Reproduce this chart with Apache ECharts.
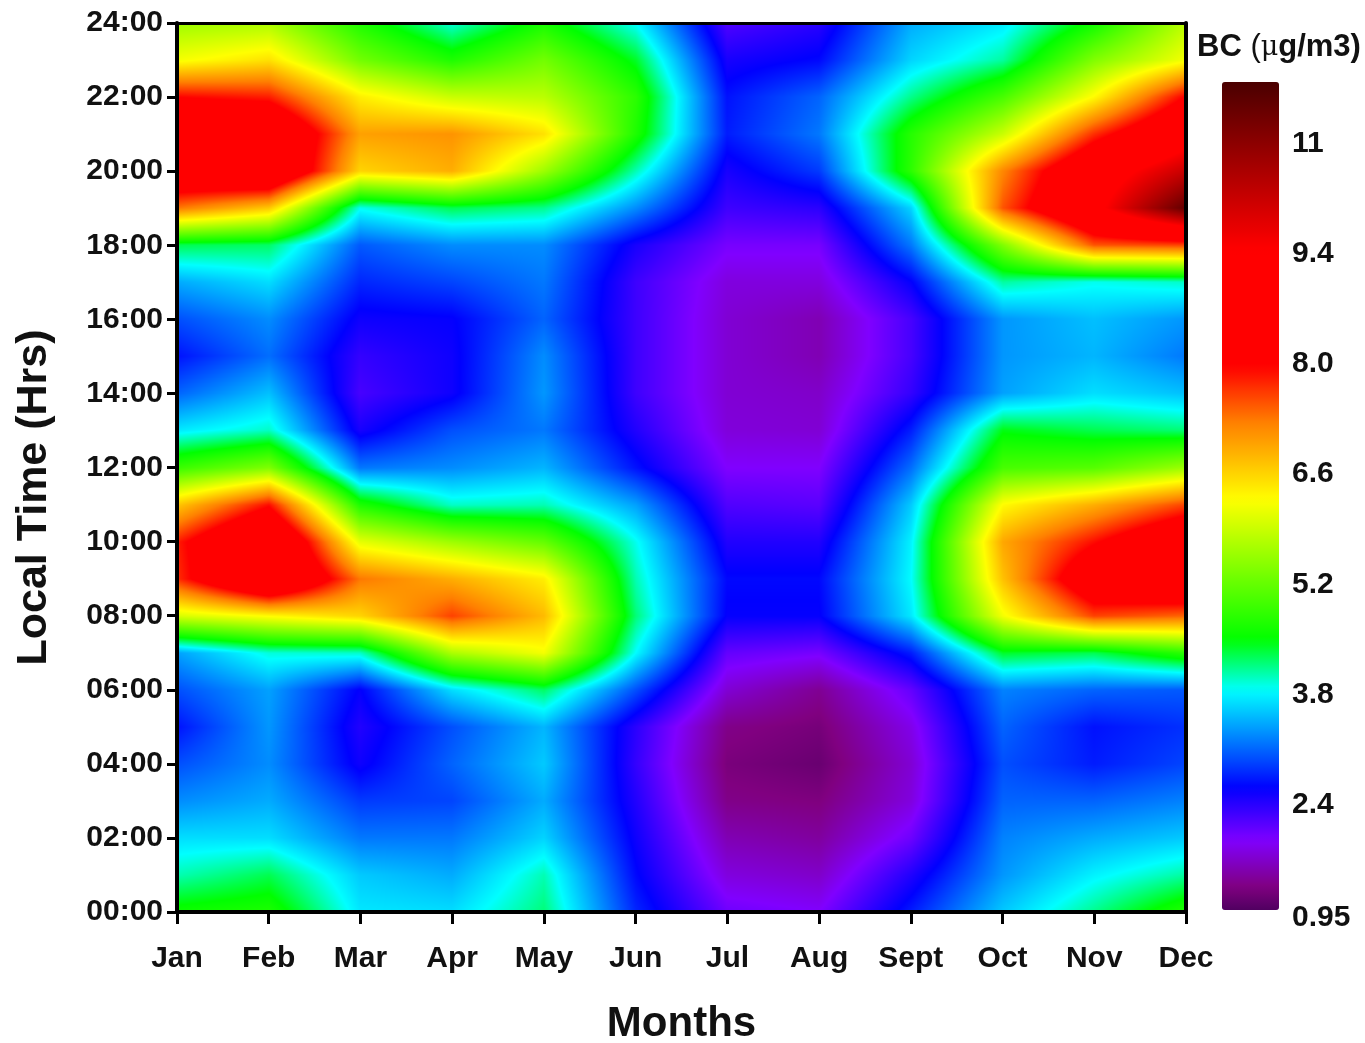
<!DOCTYPE html>
<html><head><meta charset="utf-8">
<style>html,body{margin:0;padding:0;background:#fff}#c{width:1365px;height:1043px}</style>
<script src="https://cdn.jsdelivr.net/npm/echarts@6/dist/echarts.min.js"></script>
</head><body><div id="c"></div>
<script>
// Category labels
const months = ["Jan","Feb","Mar","Apr","May","Jun","Jul","Aug","Sept","Oct","Nov","Dec"];
const hours = ["00:00","01:00","02:00","03:00","04:00","05:00","06:00","07:00","08:00","09:00","10:00","11:00","12:00","13:00","14:00","15:00","16:00","17:00","18:00","19:00","20:00","21:00","22:00","23:00","24:00"];
// BC concentration per month, one value per hour 00..24
const jan = [4.6,4.05,3.7,3.3,3.0,2.7,3.0,3.4,6.0,7.7,7.8,6.7,4.9,3.75,3.1,2.7,3.0,3.45,4.3,7.3,8.9,9.0,7.95,6.2,5.6];
const feb = [4.7,4.3,3.7,3.45,3.3,3.35,3.4,3.95,6.3,9.4,9.3,7.9,5.4,4.0,3.55,3.15,3.3,3.7,4.25,6.7,9.2,9.1,7.8,6.5,5.7];
const mar = [3.75,3.6,3.2,2.9,2.55,2.45,2.6,4.0,6.6,7.3,6.1,4.7,3.2,2.5,2.25,2.35,2.55,2.8,3.05,3.9,6.6,7.0,6.4,5.3,4.7];
const apr = [3.7,3.45,3.2,2.95,3.1,3.0,3.7,5.7,7.6,6.9,5.6,4.0,3.3,3.0,2.55,2.55,2.6,2.95,3.3,4.3,6.9,7.1,5.9,4.7,3.95];
const may = [4.2,4.05,3.65,3.45,3.6,3.5,4.25,6.2,6.8,6.4,5.2,4.05,3.5,3.2,3.35,3.3,3.1,3.2,3.3,4.15,5.6,6.5,5.8,5.3,4.65];
const jun = [2.8,2.65,2.55,2.45,2.35,2.4,3.0,3.85,4.2,4.05,3.9,3.4,2.7,2.45,2.3,2.3,2.3,2.3,2.5,3.3,4.05,4.7,4.8,4.4,3.85];
const jul = [2.05,1.8,1.6,1.4,1.32,1.4,1.75,2.1,2.6,2.65,2.45,2.2,1.95,1.78,1.75,1.75,1.75,1.8,2.0,2.3,2.5,2.75,2.7,2.5,2.2];
const aug = [1.95,1.7,1.5,1.35,1.22,1.3,1.45,2.0,2.6,2.65,2.45,2.15,1.95,1.75,1.7,1.6,1.6,1.8,2.0,2.4,2.9,3.2,3.1,2.65,2.4];
const sep = [2.75,2.45,2.05,1.8,1.75,1.85,2.1,2.75,3.75,3.85,3.8,3.6,3.15,2.75,2.35,2.25,2.25,2.6,3.2,3.65,4.8,4.75,4.15,3.65,3.45];
const oct = [3.6,3.35,3.25,3.1,3.0,3.1,3.25,4.4,6.2,6.75,6.95,6.3,5.0,4.45,3.4,3.35,3.35,4.1,5.4,7.5,7.2,5.9,5.0,4.1,3.75];
const nov = [4.15,3.8,3.45,3.1,2.75,2.7,3.1,4.3,7.6,8.7,7.9,6.9,5.1,4.3,3.7,3.5,3.55,3.9,7.5,9.2,8.9,7.7,6.3,5.4,4.6];
const dec = [4.75,4.1,3.6,3.25,2.95,2.85,3.05,4.8,7.4,9.1,8.9,7.6,5.6,4.2,3.55,3.2,3.35,4.0,7.6,11.3,10.1,9.0,8.0,6.2,5.8];
const table = [jan,feb,mar,apr,may,jun,jul,aug,sep,oct,nov,dec];
// Colour bar
const legendTickValues = [0.97,2.4,3.8,5.2,6.6,8.0,9.4,10.8];
const legendTickLabels = ["0.95","2.4","3.8","5.2","6.6","8.0","9.4","11"];
const barMin = 1.07, barMax = 11.57;
const colorStops = [[1.07,[80,0,96]],[1.36,[128,0,128]],[1.95,[128,0,255]],[2.62,[0,0,255]],[3.24,[0,128,255]],[3.86,[0,255,255]],[4.5,[0,255,0]],[5.4,[128,255,0]],[6.27,[255,255,0]],[7.25,[255,128,0]],[7.96,[255,0,0]],[9.45,[255,0,0]],[11.57,[74,0,0]]];

function rgbAt(v){
  if(v<=colorStops[0][0]) return colorStops[0][1];
  for(let k=1;k<colorStops.length;k++){
    if(v<=colorStops[k][0]){
      const a=colorStops[k-1],b=colorStops[k],t=(v-a[0])/(b[0]-a[0]);
      return [0,1,2].map(n=>a[1][n]+(b[1][n]-a[1][n])*t);
    }
  }
  return colorStops[colorStops.length-1][1];
}
const barColors=[];
for(let k=0;k<=256;k++){const c=rgbAt(barMin+(barMax-barMin)*k/256);barColors.push('rgb('+c.map(Math.round).join(',')+')');}

const seriesData=[];
table.forEach((col,i)=>col.forEach((v,j)=>seriesData.push([i,j,v])));

function cellCanvas(i,j,w,h){
  const cv=document.createElement('canvas');cv.width=w;cv.height=h;
  const ctx=cv.getContext('2d'),img=ctx.createImageData(w,h);
  const a=table[i][j],b=table[i+1][j],c=table[i][j+1],d=table[i+1][j+1];
  for(let py=0;py<h;py++){
    const ty=1-(py+.5)/h;
    for(let px=0;px<w;px++){
      const tx=(px+.5)/w;
      const v=(a*(1-tx)+b*tx)*(1-ty)+(c*(1-tx)+d*tx)*ty;
      const rgb=rgbAt(v),o=(py*w+px)*4;
      img.data[o]=rgb[0];img.data[o+1]=rgb[1];img.data[o+2]=rgb[2];img.data[o+3]=255;
    }
  }
  ctx.putImageData(img,0,0);
  return cv;
}
function renderCell(params,api){
  const i=api.value(0),j=api.value(1);
  if(i>=months.length-1||j>=hours.length-1) return null;
  const p0=api.coord([i,j]),p1=api.coord([i+1,j+1]);
  const x=Math.round(p0[0]),y=Math.round(p1[1]),w=Math.round(p1[0])-x,h=Math.round(p0[1])-y;
  return {type:'image',silent:true,style:{image:cellCanvas(i,j,w,h),x:x,y:y,width:w,height:h}};
}

const FONT='"Liberation Sans", Arial, sans-serif';
const labelStyle={fontFamily:FONT,fontWeight:'bold',fontSize:30,color:'#111'};
const lineStyle={color:'#000',width:4};
const chart=echarts.init(document.getElementById('c'),null,{renderer:'canvas'});
chart.setOption({
  animation:false,
  backgroundColor:'#fff',
  title:{
    left:1192,top:27,
    text:'{b|BC }{r|(}{m|μ}{b|g/m3)}',
    textStyle:{rich:{
      b:{fontFamily:FONT,fontWeight:'bold',fontSize:31,color:'#111'},
      r:{fontFamily:FONT,fontWeight:'normal',fontSize:31,color:'#111'},
      m:{fontFamily:'"DejaVu Serif",serif',fontWeight:'normal',fontSize:27,color:'#111'}
    }}
  },
  grid:[
    {left:177,top:23,width:1009,height:889,outerBoundsMode:'none'},
    {left:1222,top:82,width:57,height:837,outerBoundsMode:'none'}
  ],
  xAxis:[
    {type:'category',gridIndex:0,data:months,boundaryGap:false,position:'bottom',z:5,
     name:'Months',nameLocation:'middle',nameGap:91,
     nameTextStyle:{fontFamily:FONT,fontWeight:'bold',fontSize:42,color:'#111'},
     axisLine:{lineStyle:lineStyle},
     axisTick:{show:true,length:12,lineStyle:{color:'#000',width:3},interval:0},
     axisLabel:Object.assign({margin:32,interval:0,showMinLabel:true,showMaxLabel:true},labelStyle),
     splitLine:{show:false}},
    {type:'category',gridIndex:0,data:months,boundaryGap:false,position:'top',z:5,
     axisLine:{lineStyle:{color:'#000',width:3}},axisTick:{show:false},axisLabel:{show:false},splitLine:{show:false}},
    {type:'value',gridIndex:1,show:false,min:0,max:1}
  ],
  yAxis:[
    {type:'category',gridIndex:0,data:hours,boundaryGap:false,position:'left',z:5,
     name:'Local Time (Hrs)',nameLocation:'middle',nameGap:121,nameRotate:90,
     nameTextStyle:{fontFamily:FONT,fontWeight:'bold',fontSize:43,color:'#111',padding:[0,60,0,0]},
     axisLine:{lineStyle:lineStyle},
     axisTick:{show:true,length:10,interval:1,lineStyle:{color:'#000',width:3}},
     axisLabel:Object.assign({margin:14,interval:1,showMinLabel:true,showMaxLabel:true},labelStyle),
     splitLine:{show:false}},
    {type:'category',gridIndex:0,data:hours,boundaryGap:false,position:'right',z:5,
     axisLine:{lineStyle:lineStyle},axisTick:{show:false},axisLabel:{show:false},splitLine:{show:false}},
    {type:'value',gridIndex:1,position:'right',min:0.95,max:11.58,
     axisLine:{show:false},axisTick:{show:false},splitLine:{show:false},
     axisLabel:Object.assign({margin:13,showMinLabel:true,showMaxLabel:true,
       customValues:legendTickValues,
       formatter:function(v){const k=legendTickValues.indexOf(v);return k<0?'':legendTickLabels[k];}},labelStyle)}
  ],
  visualMap:{
    type:'continuous',min:barMin,max:barMax,dimension:2,seriesIndex:0,
    left:1222,top:82,itemWidth:57,itemHeight:828,padding:0,
    calculable:false,hoverLink:false,realtime:false,showLabel:false,
    inRange:{color:barColors},
    textStyle:{color:'transparent',fontSize:1},
    text:null
  },
  series:[{
    type:'custom',name:'BC',coordinateSystem:'cartesian2d',xAxisIndex:0,yAxisIndex:0,
    renderItem:renderCell,data:seriesData,encode:{x:0,y:1,tooltip:2},clip:true,silent:true,z:2
  }]
});
</script></body></html>
